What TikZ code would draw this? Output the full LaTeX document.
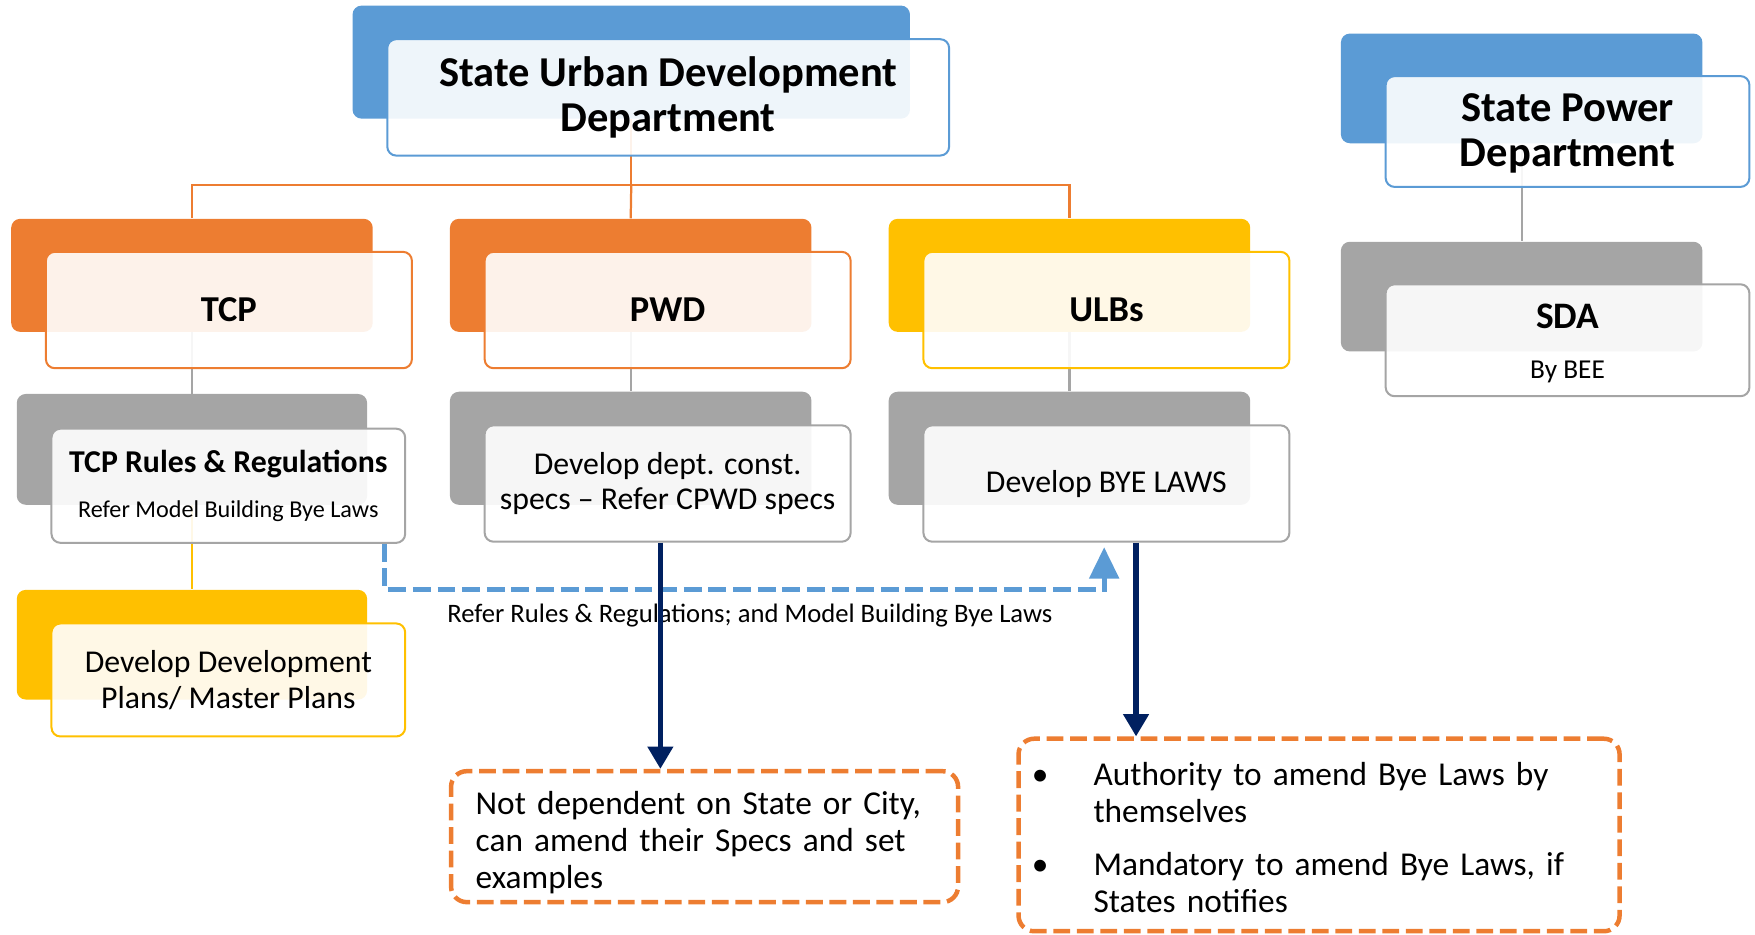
\documentclass[tikz,border=0pt]{standalone}
\usepackage{fontspec}
\setmainfont{Carlito}
\usepackage{xcolor}
\usepackage{tikz}
\usetikzlibrary{arrows.meta}
\usetikzlibrary{calc}

\definecolor{blueA}{HTML}{5B9BD5}
\definecolor{orangeA}{HTML}{ED7D31}
\definecolor{yellowA}{HTML}{FFC000}
\definecolor{grayA}{HTML}{A5A5A5}
\definecolor{navyA}{HTML}{002060}

\begin{document}
\begin{tikzpicture}[x=0.5pt,y=-0.5pt,
  backbox/.style={rectangle,rounded corners=4pt,inner sep=0pt,minimum width=161.5pt,minimum height=50.5pt},
  frontbox/.style={rectangle,draw,line width=0.9pt,rounded corners=4pt,fill=white,fill opacity=0.9,text opacity=1,
    inner sep=0pt,align=center,minimum width=163.5pt,minimum height=52pt},
  titletxt/.style={font=\bfseries\fontsize{19}{20.5}\selectfont},
  unittxt/.style={font=\bfseries\fontsize{16.3}{19}\selectfont},
  linkline/.style={line width=1pt},
  referline/.style={draw=blueA,line width=2.2pt,dash pattern=on 8pt off 3pt,-{Triangle[length=14pt,width=13pt]}},
  pushline/.style={draw=navyA,line width=2.5pt,-{Triangle[length=10pt,width=11pt]}},
  notebox/.style={draw=orangeA,line width=2pt,dash pattern=on 7.5pt off 3pt,rounded corners=7pt,
    font=\fontsize{14.9}{16.5}\selectfont,align=left,inner ysep=0pt}]
  \useasboundingbox (0,0) rectangle (1568,835);

  \node[backbox,fill=blueA,minimum width=249pt] (suddB) at (564,55.5) {};
  \node[backbox,fill=orangeA] (tcpB) at (171.5,246) {};
  \node[backbox,fill=orangeA] (pwdB) at (563.5,246) {};
  \node[backbox,fill=yellowA] (ulbB) at (955.5,246) {};
  \node[backbox,fill=grayA,minimum width=156.5pt,minimum height=49.5pt] (rulesB) at (171.5,401.5) {};
  \node[backbox,fill=grayA] (deptB) at (563.5,400.5) {};
  \node[backbox,fill=grayA] (bylawsB) at (955.5,400.5) {};
  \node[backbox,fill=yellowA,minimum width=156.5pt,minimum height=49pt] (plansB) at (171.5,576) {};
  \node[backbox,fill=blueA,minimum height=49pt] (spdB) at (1359.5,79) {};
  \node[backbox,fill=grayA,minimum height=49pt] (sdaB) at (1359.5,265) {};

  \coordinate (bus) at (564,165);
  \draw[linkline,orangeA] (suddB.south) -- (bus);
  \draw[linkline,orangeA] (tcpB.north) |- (bus) -| (ulbB.north);
  \draw[linkline,orangeA] (bus) -- (pwdB.north);
  \draw[linkline,grayA] (tcpB.south) -- (rulesB.north);
  \draw[linkline,grayA] (pwdB.south) -- (deptB.north);
  \draw[linkline,grayA] (ulbB.south) -- (bylawsB.north);
  \draw[linkline,grayA] (spdB.south) -- (sdaB.north);
  \draw[linkline,yellowA] (rulesB.south) -- (plansB.north);

  \node[frontbox,draw=blueA,titletxt,minimum width=251pt] (sudd) at (597,87) {State Urban Development\\Department};
  \node[frontbox,draw=orangeA,unittxt] (tcp) at (204.5,277) {TCP};
  \node[frontbox,draw=orangeA,unittxt] (pwd) at (596.5,277) {PWD};
  \node[frontbox,draw=yellowA,unittxt] (ulb) at (988.5,277) {ULBs};
  \node[frontbox,draw=grayA,minimum width=158pt,minimum height=51pt,font=\fontsize{10.8}{20}\selectfont] (rules) at (204,434)
    {{\bfseries\fontsize{14.2}{16}\selectfont TCP Rules \& Regulations}\\Refer Model Building Bye Laws};
  \node[frontbox,draw=grayA,font=\fontsize{14.2}{16}\selectfont] (dept) at (596.5,432) {Develop dept. const.\\specs -- Refer CPWD specs};
  \node[frontbox,draw=grayA,font=\fontsize{14.2}{16}\selectfont] (bylaws) at (988.5,432) {Develop BYE LAWS};
  \node[frontbox,draw=yellowA,minimum width=158pt,minimum height=50.5pt,font=\fontsize{14.2}{16}\selectfont] (plans) at (204,607.5)
    {Develop Development\\Plans/ Master Plans};
  \node[frontbox,draw=blueA,titletxt,minimum width=162.5pt,minimum height=49.5pt] (spd) at (1400.5,117.5)
    {\raisebox{-1.5pt}[\height][\depth]{\begin{tabular}{@{}c@{}}State Power\\Department\end{tabular}}};
  \node[frontbox,draw=grayA,minimum width=162.5pt,minimum height=50pt,font=\fontsize{12.2}{22}\selectfont] (sda) at (1400.5,304)
    {\raisebox{-1.5pt}[\height][\depth]{\begin{tabular}{@{}c@{}}{\bfseries\fontsize{16.7}{19}\selectfont SDA}\\By BEE\end{tabular}}};

  \node[notebox,text width=204.5pt,inner xsep=11pt,minimum height=58.5pt] (notdep) at (629.5,747.5)
    {\raisebox{-3.5pt}[\height][\depth]{\begin{tabular}{@{}l@{}}Not dependent on State or City,\\can amend their Specs and set\\examples\end{tabular}}};
  \node[notebox,text width=250.5pt,inner xsep=9pt,minimum height=86pt] (amend) at (1178.5,746)
    {\raisebox{-3pt}[\height][\depth]{\begin{tabular}{@{}p{24.5pt}@{}l@{}}
      \hspace{-3pt}\textbullet & Authority to amend Bye Laws by\\
      & themselves\\[7pt]
      \hspace{-3pt}\textbullet & Mandatory to amend Bye Laws, if\\
      & States notifies
    \end{tabular}}};

  \coordinate (referout) at ($(rules.south east)+(-19,0)$);
  \coordinate (referturn) at ($(rules.south east)+(-19,41)$);
  \draw[referline] (referout) -- (referturn) -| ($(bylaws.south)+(-2,4)$);
  \node[font=\fontsize{11.9}{14}\selectfont] (referlbl) at (670,550) {Refer Rules \& Regulations; and Model Building Bye Laws};

  \coordinate (deptout) at ($(dept.south)+(-6.5,0)$);
  \coordinate (ulbout) at ($(bylaws.south)+(26.5,0)$);
  \draw[pushline] (deptout) -- (deptout |- notdep.north);
  \draw[pushline] (ulbout) -- (ulbout |- amend.north);
\end{tikzpicture}
\end{document}
